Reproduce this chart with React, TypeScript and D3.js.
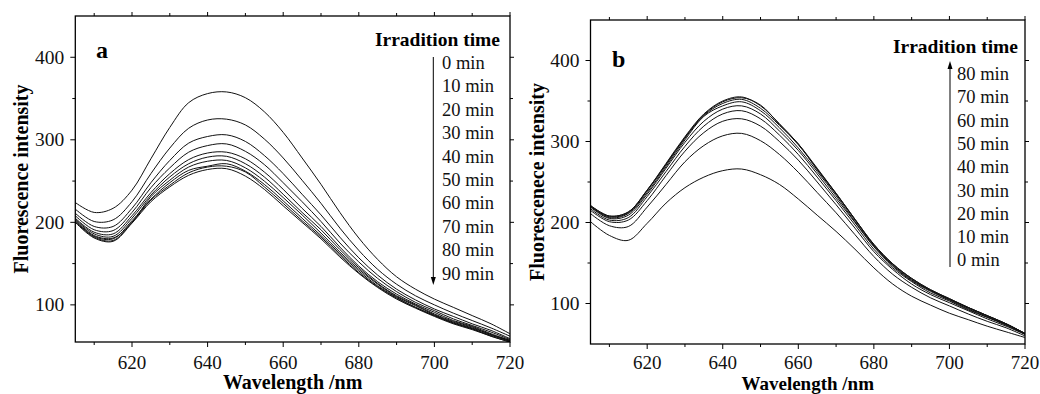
import React from "react";
import * as d3 from "d3";

const wavelengths = [605, 610, 615, 620, 625, 630, 635, 640, 645, 650, 655, 660, 665, 670, 675, 680, 685, 690, 695, 700, 705, 710, 715, 720];

// Panel a: intensity decreases with irradiation time
const a0 = [224, 212, 217, 239, 277, 315, 345, 356, 358, 351, 334, 309, 278, 246, 212, 181, 155, 134, 119, 107, 97, 87, 77, 65];
const a10 = [216, 201, 203, 225, 259, 290, 314, 324, 325, 318, 301, 278, 251, 223, 193, 166, 143, 125, 111, 100, 90, 81, 72, 62];
const a20 = [211, 195, 195, 217, 248, 275, 296, 304, 306, 298, 281, 259, 234, 209, 182, 157, 136, 119, 106, 95, 86, 77, 69, 59];
const a30 = [208, 191, 190, 212, 242, 266, 285, 293, 295, 286, 270, 248, 225, 201, 175, 152, 132, 116, 103, 93, 83, 75, 67, 58];
const a40 = [205, 188, 186, 208, 236, 259, 276, 284, 285, 277, 261, 240, 217, 195, 170, 147, 128, 113, 101, 91, 81, 74, 65, 57];
const a50 = [204, 186, 183, 205, 233, 255, 271, 279, 280, 271, 255, 234, 212, 191, 167, 145, 126, 111, 100, 89, 80, 73, 64, 57];
const a60 = [203, 184, 181, 200, 231, 251, 267, 274, 275, 266, 250, 230, 209, 187, 164, 143, 125, 110, 99, 88, 79, 72, 64, 56];
const a70 = [202, 183, 180, 202, 228, 248, 263, 268, 271, 262, 246, 226, 205, 184, 162, 141, 123, 109, 97, 87, 78, 71, 63, 56];
const a80 = [201, 182, 178, 200, 227, 245, 260, 267, 268, 261, 243, 223, 202, 182, 160, 139, 122, 108, 97, 87, 78, 71, 62, 55];
const a90 = [200, 181, 177, 199, 225, 243, 257, 264, 265, 256, 240, 220, 200, 180, 158, 138, 121, 107, 96, 86, 77, 70, 62, 55];

// Panel b: intensity increases with irradiation time
const b0 = [201, 184, 178, 199, 224, 243, 256, 264, 266, 259, 247, 229, 209, 189, 167, 144, 124, 109, 98, 88, 80, 72, 65, 58];
const b10 = [211, 196, 195, 219, 247, 275, 295, 307, 310, 301, 284, 262, 237, 212, 185, 158, 136, 120, 107, 97, 87, 78, 70, 60];
const b20 = [215, 201, 203, 227, 258, 288, 311, 325, 328, 319, 300, 277, 250, 222, 193, 164, 142, 124, 111, 101, 91, 81, 72, 62];
const b30 = [217, 203, 206, 232, 263, 294, 319, 334, 338, 328, 308, 284, 256, 227, 197, 167, 144, 127, 113, 103, 92, 83, 73, 62];
const b40 = [219, 205, 209, 235, 267, 299, 325, 340, 344, 334, 313, 289, 260, 230, 200, 170, 146, 128, 115, 104, 93, 83, 74, 62];
const b50 = [220, 206, 211, 237, 269, 302, 331, 344, 349, 338, 317, 292, 263, 233, 201, 171, 147, 129, 116, 105, 94, 84, 74, 63];
const b60 = [220, 207, 212, 239, 271, 304, 332, 347, 352, 341, 320, 297, 265, 235, 203, 172, 148, 130, 116, 105, 95, 85, 75, 63];
const b70 = [221, 208, 213, 240, 272, 305, 333, 349, 354, 345, 321, 296, 266, 236, 204, 173, 149, 131, 117, 106, 95, 85, 75, 63];
const b80 = [221, 208, 213, 240, 273, 306, 334, 350, 355, 344, 322, 297, 267, 236, 204, 173, 149, 131, 117, 106, 95, 85, 75, 63];

const legendA = ["0 min", "10 min", "20 min", "30 min", "40 min", "50 min", "60 min", "70 min", "80 min", "90 min"];
const legendB = ["80 min", "70 min", "60 min", "50 min", "40 min", "30 min", "20 min", "10 min", "0 min"];

const xMajor = [620, 640, 660, 680, 700, 720];
const xMinor = [610, 630, 650, 670, 690, 710];
const yMajor = [100, 200, 300, 400];
const yMinor = [150, 250, 350];

const FONT = "'Liberation Serif', 'Times New Roman', serif";

type PanelProps = {
  id: string;
  letter: string;
  left: number; right: number; top: number; bottom: number;
  yDomain: [number, number];
  series: number[][];
  yLabel: string;
  yLabelX: number;
  xLabelY: number;
  xLabelSize: number;
  xTickOffset: number;
  letterX: number; letterY: number;
  legend: string[];
  legendRight: number; legendTitleY: number;
  legendX: number; legendFirstY: number; legendStep: number;
  arrowX: number; arrowTop: number; arrowBottom: number; arrowUp: boolean;
};

function Panel(p: PanelProps) {
  const x = d3.scaleLinear().domain([605, 720]).range([p.left, p.right]);
  const y = d3.scaleLinear().domain(p.yDomain).range([p.bottom, p.top]);
  const line = d3.line<number>()
    .x((_, i) => x(wavelengths[i]))
    .y((d) => y(d))
    .curve(d3.curveCatmullRom.alpha(0.5));
  const cx = (p.left + p.right) / 2;
  const cy = (p.top + p.bottom) / 2;
  const tickCol = "#000";
  return (
    <g>
      <defs>
        <clipPath id={`clip-${p.id}`}>
          <rect x={p.left} y={p.top} width={p.right - p.left} height={p.bottom - p.top} />
        </clipPath>
      </defs>
      <g clipPath={`url(#clip-${p.id})`}>
        {p.series.map((s, i) => (
          <path key={i} d={line(s) || ""} fill="none" stroke="#111" strokeWidth={1} />
        ))}
      </g>
      <rect x={p.left} y={p.top} width={p.right - p.left} height={p.bottom - p.top} fill="none" stroke="#000" strokeWidth={1.3} />
      {xMajor.map((t) => (
        <g key={"xM" + t}>
          <line x1={x(t)} x2={x(t)} y1={p.bottom} y2={p.bottom + 5} stroke={tickCol} strokeWidth={1} />
          <line x1={x(t)} x2={x(t)} y1={p.top} y2={p.top - 4} stroke={tickCol} strokeWidth={1} />
          <text x={x(t)} y={p.bottom + p.xTickOffset} textAnchor="middle" fontFamily={FONT} fontSize={19} fill="#111">{t}</text>
        </g>
      ))}
      {xMinor.map((t) => (
        <g key={"xm" + t}>
          <line x1={x(t)} x2={x(t)} y1={p.bottom} y2={p.bottom + 3} stroke={tickCol} strokeWidth={1} />
          <line x1={x(t)} x2={x(t)} y1={p.top} y2={p.top - 3} stroke={tickCol} strokeWidth={1} />
        </g>
      ))}
      {yMajor.map((t) => (
        <g key={"yM" + t}>
          <line x1={p.left} x2={p.left - 5} y1={y(t)} y2={y(t)} stroke={tickCol} strokeWidth={1} />
          <line x1={p.right} x2={p.right + 4} y1={y(t)} y2={y(t)} stroke={tickCol} strokeWidth={1} />
          <text x={p.left - 11} y={y(t) + 6.5} textAnchor="end" fontFamily={FONT} fontSize={19.5} fill="#111">{t}</text>
        </g>
      ))}
      {yMinor.map((t) => (
        <g key={"ym" + t}>
          <line x1={p.left} x2={p.left - 3} y1={y(t)} y2={y(t)} stroke={tickCol} strokeWidth={1} />
          <line x1={p.right} x2={p.right + 3} y1={y(t)} y2={y(t)} stroke={tickCol} strokeWidth={1} />
        </g>
      ))}
      <text x={cx} y={p.xLabelY} textAnchor="middle" fontFamily={FONT} fontWeight="bold" fontSize={p.xLabelSize} fill="#000">Wavelength /nm</text>
      <text transform={`translate(${p.yLabelX},${cy}) rotate(-90)`} textAnchor="middle" fontFamily={FONT} fontWeight="bold" fontSize={20} fill="#000">{p.yLabel}</text>
      <text x={p.letterX} y={p.letterY} fontFamily={FONT} fontWeight="bold" fontSize={24} fill="#000">{p.letter}</text>
      <text x={p.legendRight} y={p.legendTitleY} textAnchor="end" fontFamily={FONT} fontWeight="bold" fontSize={19.5} fill="#000">Irradition time</text>
      {p.legend.map((l, i) => (
        <text key={l} x={p.legendX} y={p.legendFirstY + i * p.legendStep} fontFamily={FONT} fontSize={18.5} fill="#111">{l}</text>
      ))}
      <line x1={p.arrowX} x2={p.arrowX}
        y1={p.arrowUp ? p.arrowBottom : p.arrowTop}
        y2={p.arrowUp ? p.arrowTop + 6 : p.arrowBottom - 6}
        stroke="#000" strokeWidth={1} />
      {p.arrowUp ? (
        <path d={`M${p.arrowX},${p.arrowTop} L${p.arrowX - 2.5},${p.arrowTop + 8} L${p.arrowX + 2.5},${p.arrowTop + 8} Z`} fill="#000" />
      ) : (
        <path d={`M${p.arrowX},${p.arrowBottom} L${p.arrowX - 2.5},${p.arrowBottom - 8} L${p.arrowX + 2.5},${p.arrowBottom - 8} Z`} fill="#000" />
      )}
    </g>
  );
}

export default function App() {
  return (
    <svg width={1040} height={394} style={{ position: "absolute", left: 0, top: 0, display: "block", background: "#fff" }}>
      <rect x={0} y={0} width={1040} height={394} fill="#fff" />
      <Panel
        id="a" letter="a"
        left={75.3} right={510} top={16} bottom={342}
        yDomain={[55, 450]}
        series={[a0, a10, a20, a30, a40, a50, a60, a70, a80, a90]}
        yLabel="Fluorescence intensity" yLabelX={28} xLabelY={389} xLabelSize={20} xTickOffset={27}
        letterX={96} letterY={58}
        legend={legendA} legendRight={500} legendTitleY={46}
        legendX={442} legendFirstY={69} legendStep={23.4}
        arrowX={433.3} arrowTop={57} arrowBottom={285} arrowUp={false}
      />
      <Panel
        id="b" letter="b"
        left={590.5} right={1025} top={20} bottom={344}
        yDomain={[50, 450]}
        series={[b0, b10, b20, b30, b40, b50, b60, b70, b80]}
        yLabel="Fluorescenece intensity" yLabelX={544} xLabelY={390} xLabelSize={19} xTickOffset={24.5}
        letterX={612} letterY={67}
        legend={legendB} legendRight={1018} legendTitleY={53}
        legendX={957} legendFirstY={80} legendStep={23.3}
        arrowX={950} arrowTop={61} arrowBottom={267} arrowUp={true}
      />
    </svg>
  );
}
